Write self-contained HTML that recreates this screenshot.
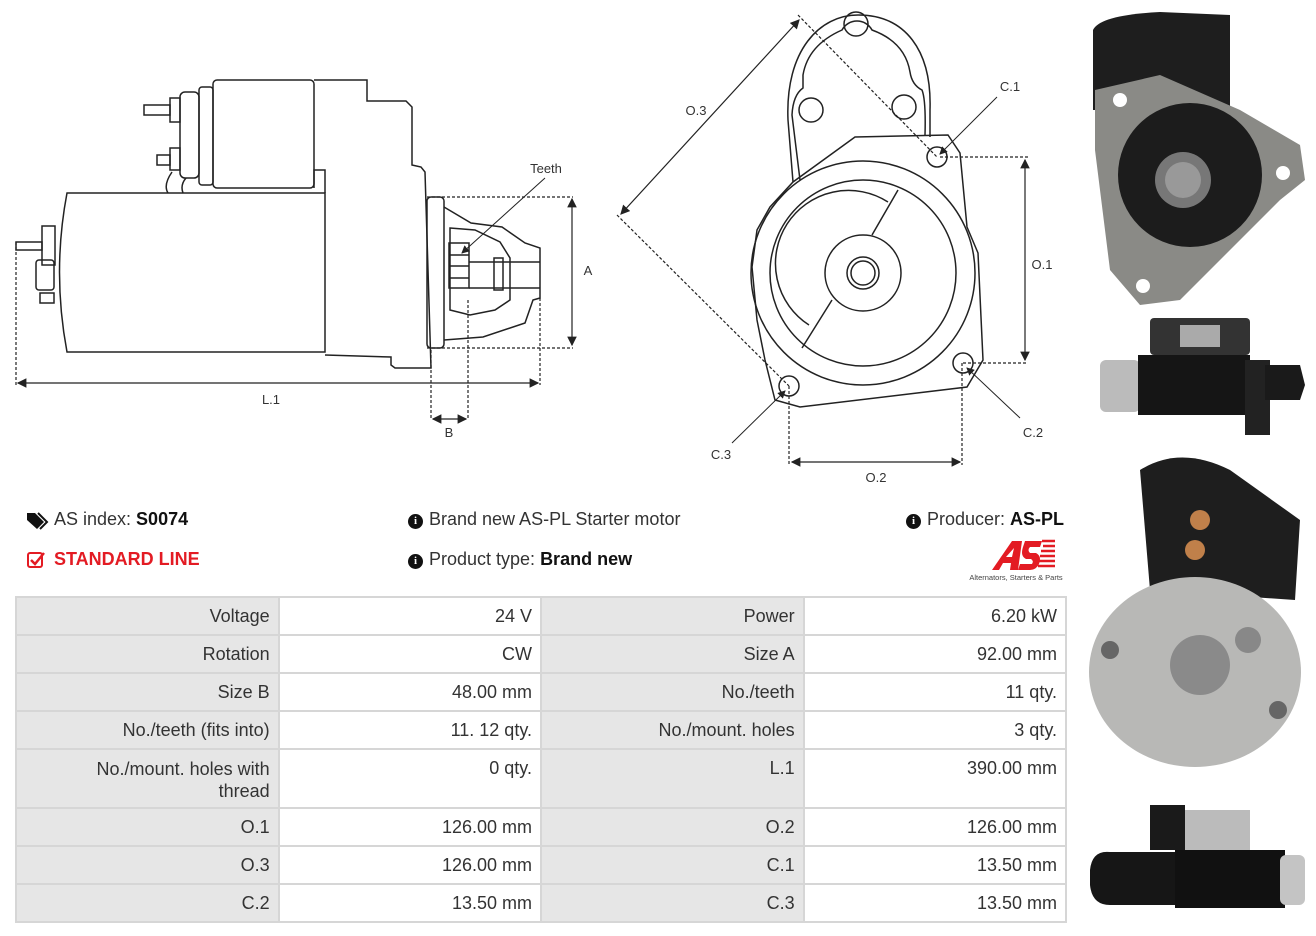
<!DOCTYPE html>
<html><head><meta charset="utf-8"><style>
body{margin:0;width:1316px;height:936px;background:#fff;position:relative;overflow:hidden;font-family:"Liberation Sans",sans-serif;color:#333}
svg{position:absolute;left:0;top:0}
.t{position:absolute;font-size:18px;white-space:nowrap;color:#333}
table{position:absolute;left:15px;top:596px;border-collapse:collapse;width:1052px;font-size:18px;color:#333}
td{border:2px solid #d6d6d6;text-align:right;padding:0 8px;height:36px;width:246px;vertical-align:middle}
td.l{background:#e6e6e6}
.ic{display:inline-block;width:15px;height:15px;border-radius:50%;background:#111;color:#fff;font-size:11px;font-weight:bold;text-align:center;line-height:15px;font-family:"Liberation Serif",serif;vertical-align:1px;margin-right:6px}
</style></head><body>
<svg width="1316" height="936" viewBox="0 0 1316 936">
<defs><marker id="a" markerWidth="8" markerHeight="8" refX="7" refY="4" orient="auto-start-reverse"><path d="M0,0 L8,4 L0,8 z" fill="#222"/></marker></defs>
<g fill="none" stroke="#222" stroke-width="1.5">
<path d="M67,193 H325 V352 H67 Q52,272 67,193 z"/>
<path d="M314,80 H367 V101 H406 L412,107 V165 L421,167 L425,172 L431,368 H395 L391,365 V357 L325,355"/>
<rect x="213" y="80" width="101" height="108" rx="4"/>
<rect x="199" y="87" width="14" height="98" rx="3"/>
<rect x="180" y="92" width="19" height="86" rx="5"/>
<rect x="170" y="98" width="10" height="24"/><rect x="144" y="105" width="26" height="10"/>
<rect x="170" y="148" width="10" height="22"/><rect x="157" y="155" width="13" height="10"/>
<path d="M314,188 V170 H325 V193 M168,193 Q163,185 172,172 M183,193 Q180,185 186,178"/>
<rect x="42" y="226" width="13" height="39"/><rect x="16" y="242" width="26" height="8"/>
<rect x="36" y="260" width="18" height="30" rx="3"/><rect x="40" y="293" width="14" height="10"/>
<rect x="427" y="197" width="17" height="151" rx="4"/>
<path d="M444,207 L471,223 L502,227 L525,243 L540,248 V298 L533,300 L525,323 L483,337 L444,340"/>
<path d="M450,228 L475,230 L500,242 L510,258 V300 L495,310 L470,315 L450,310 z"/>
<rect x="449" y="243" width="20" height="45"/><path d="M449,255 H469 M449,266 H469 M449,278 H469 M469,262 H540 M469,288 H540"/>
<rect x="494" y="258" width="9" height="32"/>
<path d="M793,182 L788,120 C785,50 820,15 858,15 C905,15 932,50 930,110 V137"/>
<path d="M800,180 L792,115 Q793,95 803,88 V75 Q808,45 842,30 A17,17 0 0 1 872,30 Q905,42 910,72 Q912,85 922,90 Q926,100 925,135"/>
<circle cx="856" cy="24" r="12"/><circle cx="811" cy="110" r="12"/><circle cx="904" cy="107" r="12"/>
<path d="M855,137 L948,135 L960,153 L967,227 L978,253 L983,360 L967,387 L800,407 L775,400 L765,360 L757,320 L752,267 L757,230 L770,207 L793,182 z"/>
<circle cx="863" cy="273" r="112"/><circle cx="863" cy="273" r="93"/>
<path d="M888,202 A73,73 0 0 0 809,325"/><path d="M898,190 L872,235 M832,300 L802,348"/>
<circle cx="863" cy="273" r="38"/><circle cx="863" cy="273" r="16"/><circle cx="863" cy="273" r="12"/>
<circle cx="937" cy="157" r="10"/><circle cx="963" cy="363" r="10"/><circle cx="789" cy="386" r="10"/>
</g>
<g fill="none" stroke="#222" stroke-width="1.2" stroke-dasharray="3,2">
<path d="M16,242 V385 M540,298 V385 M427,197 H573 M427,348 H573 M431,350 V420 M468,300 V420"/>
<path d="M798,15 L937,157 M617,215 L789,386 M940,157 H1028 M963,363 H1028 M789,386 V465 M962,363 V465"/>
</g>
<g fill="none" stroke="#222" stroke-width="1.2" marker-start="url(#a)" marker-end="url(#a)">
<path d="M18,383 H538"/><path d="M572,199 V345"/><path d="M433,419 H466"/>
<path d="M1025,160 V360"/><path d="M792,462 H960"/><path d="M799,20 L621,214"/>
</g>
<g fill="none" stroke="#222" stroke-width="1" marker-end="url(#a)">
<path d="M545,178 L462,253"/><path d="M997,97 L940,154"/><path d="M1020,418 L967,368"/><path d="M732,443 L785,391"/>
</g>
<g font-family="Liberation Sans,sans-serif" font-size="13" fill="#333" text-anchor="middle">
<text x="546" y="173">Teeth</text><text x="588" y="275">A</text><text x="271" y="404">L.1</text><text x="449" y="437">B</text>
<text x="696" y="115">O.3</text><text x="1010" y="91">C.1</text><text x="1033" y="437">C.2</text><text x="721" y="459">C.3</text><text x="1042" y="269">O.1</text><text x="876" y="482">O.2</text>
</g>
<path d="M1093,30 Q1100,15 1160,12 L1230,15 V110 H1093 z" fill="#1e1e1e"/>
<path d="M1095,90 L1160,75 L1240,110 L1300,145 L1305,180 L1280,200 L1180,300 L1140,305 L1110,270 L1095,150 z" fill="#8a8a86"/>
<circle cx="1190" cy="175" r="72" fill="#1c1c1c"/><circle cx="1183" cy="180" r="28" fill="#777"/><circle cx="1183" cy="180" r="18" fill="#999"/>
<circle cx="1120" cy="100" r="7" fill="#fff"/><circle cx="1283" cy="173" r="7" fill="#fff"/><circle cx="1143" cy="286" r="7" fill="#fff"/>
<rect x="1150" y="318" width="100" height="37" rx="4" fill="#333"/><rect x="1180" y="325" width="40" height="22" fill="#aaa"/>
<rect x="1100" y="360" width="40" height="52" rx="6" fill="#bbb"/><rect x="1138" y="355" width="112" height="60" fill="#151515"/>
<rect x="1245" y="360" width="25" height="75" fill="#222"/><path d="M1265,365 H1300 L1305,385 L1300,400 H1265 z" fill="#1a1a1a"/>
<path d="M1140,470 Q1180,445 1230,470 L1300,520 L1295,600 L1150,590 z" fill="#1e1e1e"/>
<circle cx="1200" cy="520" r="10" fill="#c0804a"/><circle cx="1195" cy="550" r="10" fill="#c0804a"/>
<ellipse cx="1195" cy="672" rx="106" ry="95" fill="#b8b8b6"/><circle cx="1200" cy="665" r="30" fill="#8a8a8a"/>
<circle cx="1248" cy="640" r="13" fill="#888"/><circle cx="1110" cy="650" r="9" fill="#666"/><circle cx="1278" cy="710" r="9" fill="#666"/>
<rect x="1185" y="810" width="65" height="40" fill="#bbb"/><rect x="1150" y="805" width="35" height="45" fill="#1a1a1a"/>
<path d="M1090,870 Q1092,850 1110,852 H1180 V905 H1110 Q1092,905 1090,885 z" fill="#161616"/>
<rect x="1175" y="850" width="110" height="58" fill="#111"/><rect x="1280" y="855" width="25" height="50" rx="6" fill="#c4c4c4"/>
<path d="M992,570 L1012,541 H1022 L1018,570 H1010 L1011,563 H1003 L999,570 z M1006,557 H1012 L1014,548 z" fill="#e31b23"/>
<path d="M1025,541 H1042 L1040,547 H1030 Q1027,550 1030,553 H1036 Q1042,556 1039,564 Q1036,570 1030,570 H1018 L1020,564 H1032 Q1034,561 1031,559 H1026 Q1020,556 1023,547 z" fill="#e31b23"/>
<path d="M1042,541 H1055 M1043,546 H1055 M1041,551 H1055 M1040,556 H1055 M1039,561 H1055 M1038,566 H1055" stroke="#e31b23" stroke-width="2.5"/>
<text x="1016" y="580" font-family="Liberation Sans,sans-serif" font-size="7.5" fill="#444" text-anchor="middle">Alternators, Starters &amp; Parts</text>
<path d="M27,513 H35 L44,522 L37,529 L27,520 z" fill="#111"/><path d="M38,513 L47,522 L40,529" stroke="#111" stroke-width="2" fill="none"/>
<rect x="28" y="553" width="14" height="14" rx="2" fill="none" stroke="#e31b23" stroke-width="2"/><path d="M31,560 L35,564 L44,553" stroke="#e31b23" stroke-width="2.5" fill="none"/>
</svg>
<div class="t" style="left:54px;top:509px">AS index: <b style="color:#111">S0074</b></div>
<div class="t" style="left:54px;top:549px;color:#e31b23;font-weight:bold">STANDARD LINE</div>
<div class="t" style="left:408px;top:509px"><span class="ic">i</span>Brand new AS-PL Starter motor</div>
<div class="t" style="left:408px;top:549px"><span class="ic">i</span>Product type: <b style="color:#111">Brand new</b></div>
<div class="t" style="left:906px;top:509px"><span class="ic">i</span>Producer: <b style="color:#111">AS-PL</b></div>
<table>
<tr><td class="l">Voltage</td><td>24 V</td><td class="l">Power</td><td>6.20 kW</td></tr>
<tr><td class="l">Rotation</td><td>CW</td><td class="l">Size A</td><td>92.00 mm</td></tr>
<tr><td class="l">Size B</td><td>48.00 mm</td><td class="l">No./teeth</td><td>11 qty.</td></tr>
<tr><td class="l">No./teeth (fits into)</td><td>11. 12 qty.</td><td class="l">No./mount. holes</td><td>3 qty.</td></tr>
<tr><td class="l" style="height:49px;vertical-align:top;padding-top:8px;line-height:22px">No./mount. holes with<br>thread</td><td style="height:49px;vertical-align:top;padding-top:8px">0 qty.</td><td class="l" style="height:49px;vertical-align:top;padding-top:8px">L.1</td><td style="height:49px;vertical-align:top;padding-top:8px">390.00 mm</td></tr>
<tr><td class="l">O.1</td><td>126.00 mm</td><td class="l">O.2</td><td>126.00 mm</td></tr>
<tr><td class="l">O.3</td><td>126.00 mm</td><td class="l">C.1</td><td>13.50 mm</td></tr>
<tr><td class="l">C.2</td><td>13.50 mm</td><td class="l">C.3</td><td>13.50 mm</td></tr>
</table>
</body></html>
